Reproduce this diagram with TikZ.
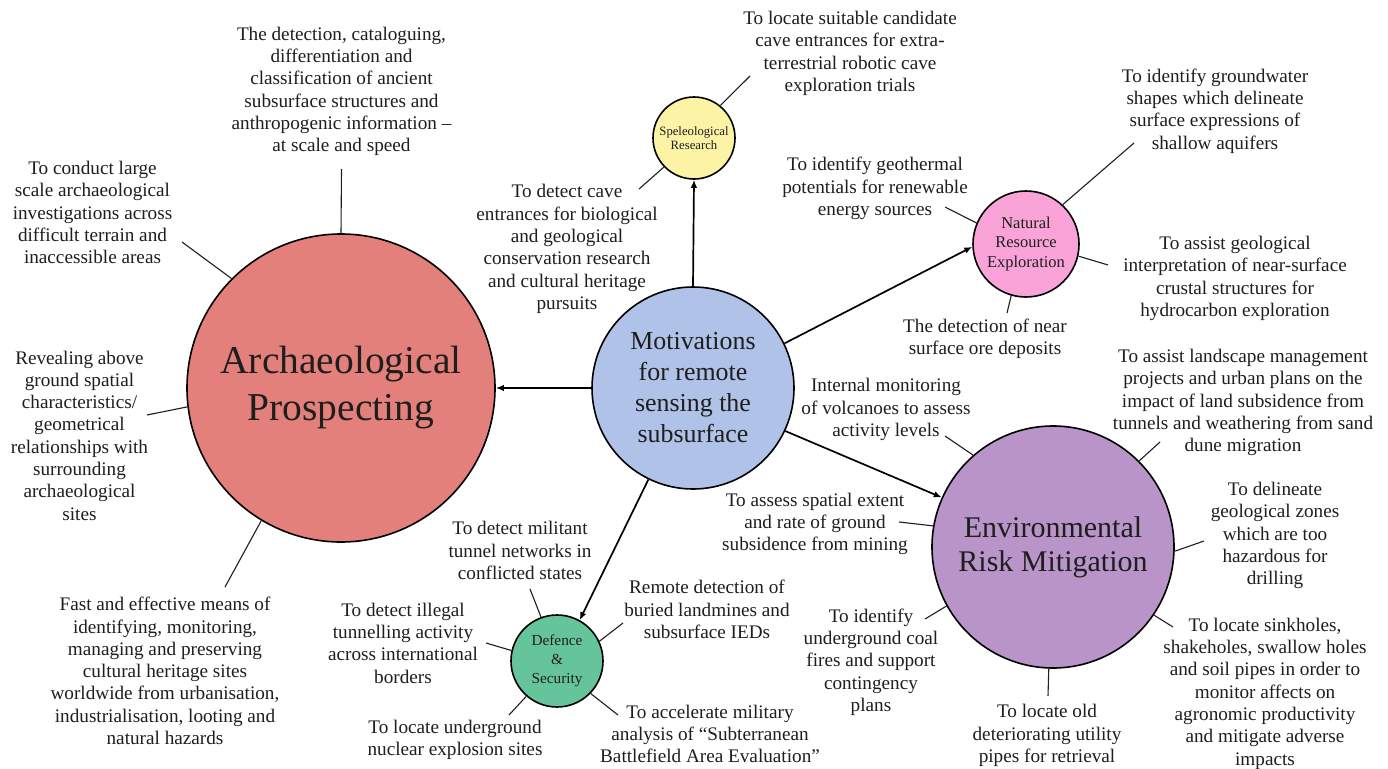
\documentclass[tikz,border=0pt]{standalone}
\usepackage{fontspec}
\setmainfont{Liberation Serif}
\usetikzlibrary{arrows.meta}
\definecolor{archred}{HTML}{E4807B}
\definecolor{motivblue}{HTML}{B0C2E7}
\definecolor{spelyellow}{HTML}{FCF3A5}
\definecolor{natpink}{HTML}{F9A3D9}
\definecolor{envpurple}{HTML}{B894C9}
\definecolor{defgreen}{HTML}{66C49A}
\definecolor{ink}{HTML}{1E1E1E}
\begin{document}
\begin{tikzpicture}[x=1pt,y=-1pt,
  hub/.style={circle,draw=black,line width=1.6pt,inner sep=0pt,align=center,text=ink},
  note/.style={align=center,inner sep=0pt,text=ink,font=\fontsize{19.2}{22.3}\selectfont},
  lead/.style={line width=1.1pt,draw=ink},
  link/.style={line width=1.7pt,draw=black,-{Latex[length=8pt,width=6.5pt]}}]

\fill[white] (0,0) rectangle (1388,768);
\useasboundingbox (0,0) rectangle (1388,768);

% topic circles
\node[hub,fill=archred,minimum size=308pt,font=\fontsize{39.5}{47}\selectfont] (arch) at (341,388) {Archaeological\\Prospecting};
\node[hub,fill=motivblue,minimum size=202pt,font=\fontsize{25.9}{31}\selectfont] (motiv) at (693,388) {Motivations\\for remote\\sensing the\\subsurface};
\node[hub,fill=spelyellow,minimum size=82pt,font=\fontsize{12.7}{14.5}\selectfont] (spel) at (694,138) {Speleological\\Research};
\node[hub,fill=natpink,minimum size=106pt,font=\fontsize{16.5}{19.7}\selectfont] (nat) at (1026,244) {Natural\\Resource\\Exploration};
\node[hub,fill=envpurple,minimum size=242pt,font=\fontsize{30}{34}\selectfont] (env) at (1053,547) {Environmental\\Risk Mitigation};
\node[hub,fill=defgreen,minimum size=92pt,font=\fontsize{15.3}{19}\selectfont] (def) at (557,661) {Defence\\\&\\Security};

% motivations branch out to each field
\draw[link] (motiv) -- (arch);
\draw[link] (motiv.90) -- (spel.270);
\draw[link] (motiv.26) -- (nat.183);
\draw[link] (motiv.335) -- (env.156);
\draw[link] (motiv.244) -- (def.61);

% descriptions
\node[note] (t1) at (341.5,91.5) {The detection, cataloguing,\\differentiation and\\classification of ancient\\subsurface structures and\\anthropogenic information --\\at scale and speed};
\node[note] (t2) at (92.5,212.5) {To conduct large\\scale archaeological\\investigations across\\difficult terrain and\\inaccessible areas};
\node[note] (t3) at (79.5,435.5) {Revealing above\\ground spatial\\characteristics/\\geometrical\\relationships with\\surrounding\\archaeological\\sites};
\node[note] (t4) at (165,671) {Fast and effective means of\\identifying, monitoring,\\managing and preserving\\cultural heritage sites\\worldwide from urbanisation,\\industrialisation, looting and\\natural hazards};
\node[note] (t5) at (567,249) {To detect cave\\entrances for biological\\and geological\\conservation research\\and cultural heritage\\pursuits};
\node[note] (t6) at (850,53.5) {To locate suitable candidate\\cave entrances for extra-\\terrestrial robotic cave\\exploration trials};
\node[note] (t7) at (1215,111) {To identify groundwater\\shapes which delineate\\surface expressions of\\shallow aquifers};
\node[note] (t8) at (875,188.5) {To identify geothermal\\potentials for renewable\\energy sources};
\node[note] (t9) at (1235,278.5) {To assist geological\\interpretation of near-surface\\crustal structures for\\hydrocarbon exploration};
\node[note] (t10) at (985,338.5) {The detection of near\\surface ore deposits};
\node[note] (t11) at (886,409.5) {Internal monitoring\\of volcanoes to assess\\activity levels};
\node[note] (t12) at (1243,402.5) {To assist landscape management\\projects and urban plans on the\\impact of land subsidence from\\tunnels and weathering from sand\\dune migration};
\node[note] (t13) at (815,524) {To assess spatial extent\\and rate of ground\\subsidence from mining};
\node[note] (t14) at (1275,535.5) {To delineate\\geological zones\\which are too\\hazardous for\\drilling};
\node[note] (t15) at (871,662) {To identify\\underground coal\\fires and support\\contingency\\plans};
\node[note] (t16) at (1047,735.5) {To locate old\\deteriorating utility\\pipes for retrieval};
\node[note] (t17) at (1265,693.5) {To locate sinkholes,\\shakeholes, swallow holes\\and soil pipes in order to\\monitor affects on\\agronomic productivity\\and mitigate adverse\\impacts};
\node[note] (t18) at (520,550.5) {To detect militant\\tunnel networks in\\conflicted states};
\node[note] (t19) at (707,609.5) {Remote detection of\\buried landmines and\\subsurface IEDs};
\node[note] (t20) at (403,643) {To detect illegal\\tunnelling activity\\across international\\borders};
\node[note] (t21) at (455,740) {To locate underground\\nuclear explosion sites};
\node[note] (t22) at (710,734) {To accelerate military\\analysis of “Subterranean\\Battlefield Area Evaluation”};

% loose ends of the leader lines
\coordinate (a1) at (341.5,169);
\coordinate (a2) at (182,242);
\coordinate (a3) at (147,415);
\coordinate (a4) at (225,587);
\coordinate (s1) at (750,76);
\coordinate (s2) at (639,189);
\coordinate (n1) at (1134,143);
\coordinate (n2) at (945,207);
\coordinate (n3) at (1108,265);
\coordinate (n4) at (1007,313);
\coordinate (e1) at (945,436);
\coordinate (e2) at (1160,442);
\coordinate (e3) at (899,522);
\coordinate (e4) at (1204,541);
\coordinate (e5) at (925,619);
\coordinate (e6) at (1048,696);
\coordinate (e7) at (1173,627);
\coordinate (d1) at (530,589);
\coordinate (d2) at (486,643);
\coordinate (d3) at (509,715);
\coordinate (d4) at (623,623);
\coordinate (d5) at (618,715);

% leader lines from each circle
\draw[lead] (arch.90) -- (a1);
\draw[lead] (arch.135) -- (a2);
\draw[lead] (arch.187) -- (a3);
\draw[lead] (arch.239) -- (a4);
\draw[lead] (spel.51) -- (s1);
\draw[lead] (spel.224) -- (s2);
\draw[lead] (nat.47) -- (n1);
\draw[lead] (nat.157) -- (n2);
\draw[lead] (nat.347) -- (n3);
\draw[lead] (nat.254) -- (n4);
\draw[lead] (env.131) -- (e1);
\draw[lead] (env.45) -- (e2);
\draw[lead] (env.170) -- (e3);
\draw[lead] (env.358) -- (e4);
\draw[lead] (env.209) -- (e5);
\draw[lead] (env.268) -- (e6);
\draw[lead] (env.326) -- (e7);
\draw[lead] (def.110) -- (d1);
\draw[lead] (def.167) -- (d2);
\draw[lead] (def.229) -- (d3);
\draw[lead] (def.25) -- (d4);
\draw[lead] (def.316) -- (d5);
\end{tikzpicture}
\end{document}
